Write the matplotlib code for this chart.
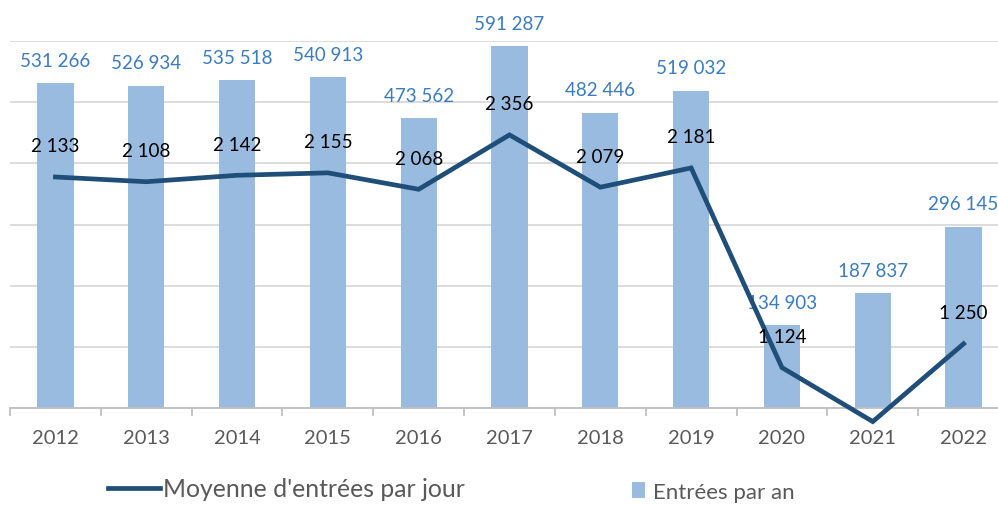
import numpy as np
import matplotlib
matplotlib.use("Agg")
import matplotlib.pyplot as plt

plt.rcParams['font.family'] = ['Lato', 'DejaVu Sans']

years = ['2012', '2013', '2014', '2015', '2016', '2017', '2018', '2019', '2020', '2021', '2022']
entrees_an = [531266, 526934, 535518, 540913, 473562, 591287, 482446, 519032, 134903, 187837, 296145]
moy_jour = [2133, 2108, 2142, 2155, 2068, 2356, 2079, 2181, 1124, 838, 1250]


def fmt(v):
    return f"{v:,}".replace(",", " ")


bar_col = '#9ABBE0'
line_col = '#1F4E79'
lab_blue = '#3B7BC0'
grey_txt = '#595959'

fig = plt.figure(figsize=(9.98, 5.06), dpi=100)
ax = fig.add_axes([10 / 998, 1 - 409 / 506, 999 / 998, 367 / 506])
x = np.arange(len(years))

bars = ax.bar(x, entrees_an, width=0.4, color=bar_col, zorder=2, label='Entrées par an')
ax.set_xlim(-0.5, len(years) - 0.5)
ax.set_ylim(0, 600000)
ax.set_yticks(np.arange(0, 600001, 100000))
ax.yaxis.grid(True, color='#D9D9D9', linewidth=1.3, zorder=0)
ax.set_axisbelow(True)
for s in ['top', 'right', 'left']:
    ax.spines[s].set_visible(False)
ax.spines['bottom'].set_color('#BFBFBF')
ax.spines['bottom'].set_linewidth(1.3)

ax.set_xticks(x)
ax.set_xticklabels(years, fontsize=14.5, color=grey_txt)
ax.tick_params(axis='x', which='major', length=0, pad=15)
ax.set_xticks(np.arange(-0.5, len(years), 1), minor=True)
ax.tick_params(axis='x', which='minor', length=6, width=1.3, color='#BFBFBF', direction='out')

for xi, v in zip(x, entrees_an):
    ax.annotate(fmt(v), (xi, v), xytext=(0, 23), textcoords='offset pixels',
                ha='center', va='center', fontsize=13.5, color=lab_blue, zorder=5)

ax2 = ax.twinx()
ax2.set_ylim(910, 2853)
ax2.axis('off')
# twinx turns the left ticks back on
ax.tick_params(axis='y', which='both', left=False, right=False, labelleft=False)

line, = ax2.plot(x, moy_jour, color=line_col, linewidth=3.4, clip_on=False,
                 solid_joinstyle='miter', zorder=4, label="Moyenne d'entrées par jour")
for xi, v in zip(x, moy_jour):
    ax2.annotate(fmt(v), (xi, v), xytext=(0, 31), textcoords='offset pixels',
                 ha='center', va='center', fontsize=13.5, color='black', zorder=6)

leg1 = fig.legend(handles=[line], loc='center left', bbox_to_anchor=(108 / 998, 1 - 490 / 506),
                  frameon=False, fontsize=17.8, handlelength=2.1, handletextpad=0.12,
                  borderaxespad=0, borderpad=0, labelcolor=grey_txt)
leg2 = fig.legend(handles=[bars], loc='center left', bbox_to_anchor=(632 / 998, 1 - 493 / 506),
                  frameon=False, fontsize=16, handlelength=0.6, handleheight=0.7,
                  handletextpad=0.35, borderaxespad=0, borderpad=0, labelcolor=grey_txt)

fig.savefig('out.png', dpi=100)
